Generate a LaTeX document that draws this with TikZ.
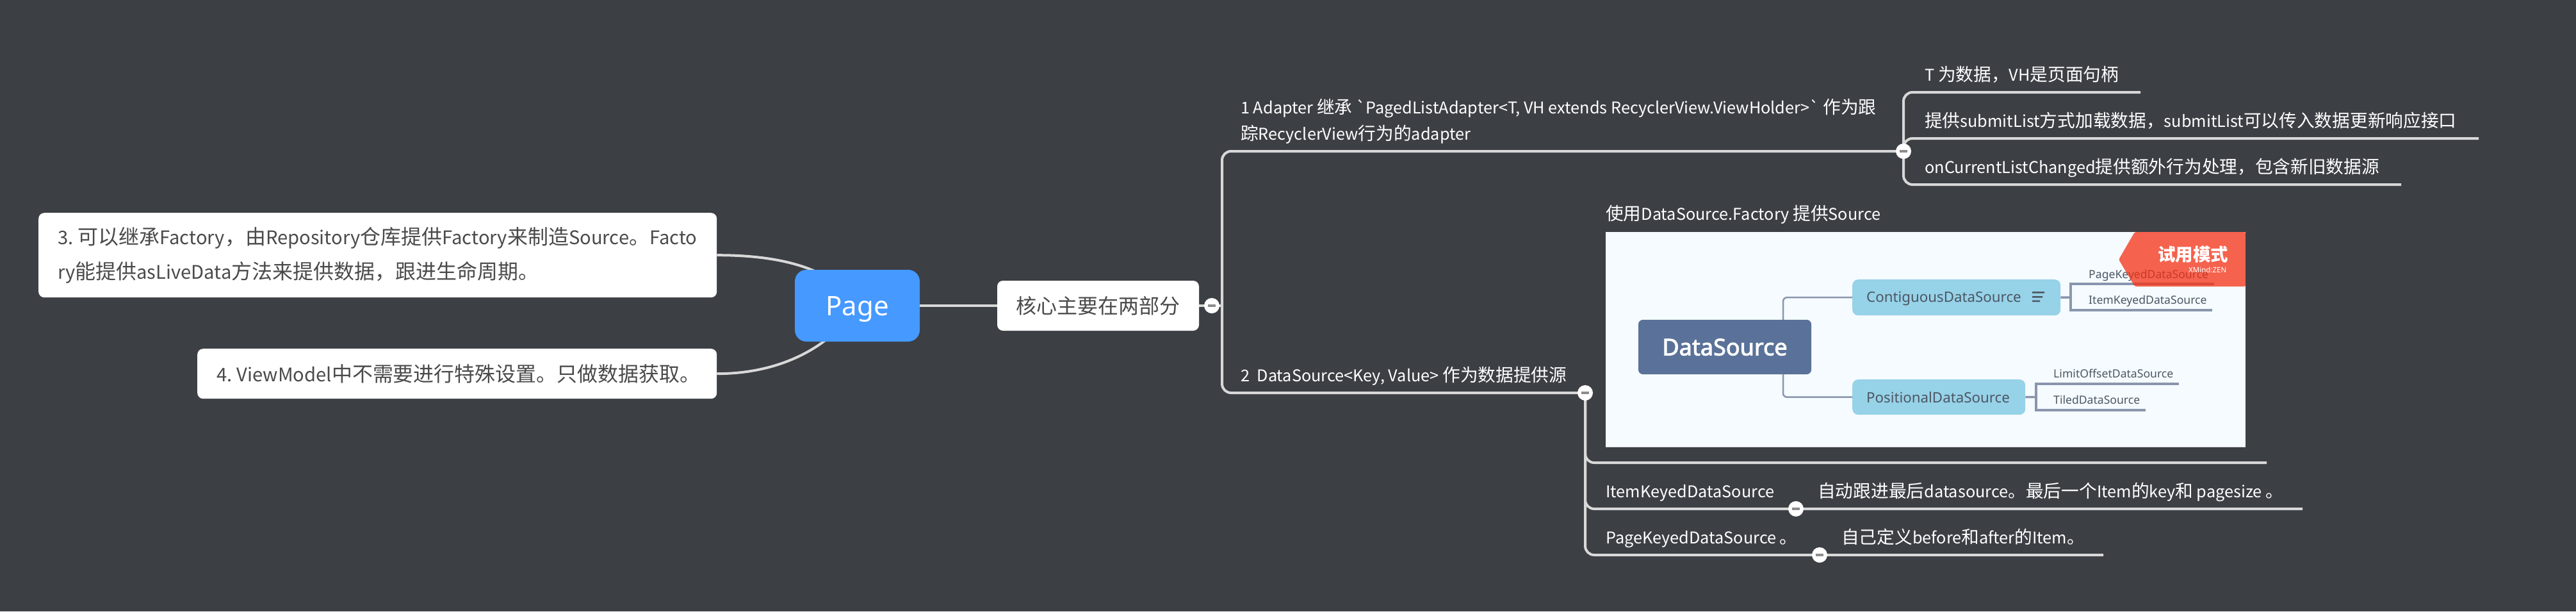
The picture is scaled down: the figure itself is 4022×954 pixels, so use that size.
\documentclass[tikz,border=0pt]{standalone}
\usepackage{fontspec}
\setmainfont[Ligatures=TeXOff]{Noto Sans CJK SC}
\newfontfamily\cjkf[Scale=1.095]{Noto Sans CJK SC}
\newfontfamily\cjkfull{Noto Sans CJK SC}
\newfontfamily\latinui{Noto Sans}
\newfontfamily\latinbold[FakeBold=2.5]{Noto Sans}
\newcommand{\C}[1]{{\cjkf #1}}
\usetikzlibrary{backgrounds}
\definecolor{bgc}{HTML}{3C3F44}
\definecolor{linec}{HTML}{D8D8D8}
\definecolor{boxtext}{HTML}{4A4A4A}
\definecolor{pageblue}{HTML}{4599FF}
\definecolor{imgbg}{HTML}{F5FBFF}
\definecolor{dsblue}{HTML}{5A7299}
\definecolor{skyb}{HTML}{96D2E8}
\definecolor{imgline}{HTML}{8A96AC}
\definecolor{imgtext}{HTML}{4D5662}
\definecolor{wmred}{HTML}{F53014}
\newcommand{\fs}[2]{\fontsize{#1}{#2}\selectfont}
\tikzset{
  link/.style={draw=linec,line width=4pt,rounded corners=14pt},
  curvelink/.style={draw=linec,line width=4pt},
  imglink/.style={draw=imgline,line width=2.5pt,rounded corners=6pt},
  imgsub/.style={draw=imgline,line width=3.5pt},
  note/.style={fill=white,rounded corners=9pt,inner sep=0pt,text=boxtext,anchor=north west,align=left},
  label/.style={inner sep=0pt,anchor=base west,text=white,align=left,font=\fs{25.3}{41}},
  collapse/.style={circle,fill=white,inner sep=0pt,minimum size=24pt,
    path picture={\fill[black!45] ([xshift=-6pt,yshift=-1.7pt]path picture bounding box.center) rectangle ([xshift=6pt,yshift=1.7pt]path picture bounding box.center);}},
  imgtxt/.style={inner sep=0pt,anchor=base west,text=imgtext,font=\latinui\fs{17.6}{24}},
}
\begin{document}
\begin{tikzpicture}[x=1pt,y=-1pt]
\useasboundingbox (0,0) rectangle (4022,954);
\begin{pgfonlayer}{background}
\fill[bgc] (0,0) rectangle (4022,954);
\end{pgfonlayer}
% left notes
\node[note,minimum width=1059pt,minimum height=132pt,text width=999pt,font=\fs{29.2}{54}] (n3) at (60,332)
  {3.\hspace{7pt}\C{可以继承}Factory\C{，由}Repository\C{仓库提供}Factory\C{来制造}Source\C{。}Facto\\ry\C{能提供}asLiveData\C{方法来提供数据，跟进生命周期。}};
\node[note,minimum width=811pt,minimum height=78pt,text width=751pt,font=\fs{29.2}{40}] (n4) at (308,544)
  {4.\hspace{7pt}ViewModel\C{中不需要进行特殊设置。只做数据获取。}};
% root and core
\node[fill=pageblue,rounded corners=18pt,minimum width=195pt,minimum height=112pt,inner sep=0pt,text=white,font=\latinui\fs{42}{50}] (page) at (1338.5,477) {\smash{\raisebox{-15pt}{Page}}};
\node[fill=white,rounded corners=9pt,minimum width=315pt,minimum height=78pt,inner sep=0pt,text=boxtext,font=\cjkfull\fs{32}{40}] (core) at (1714.5,477) {核心主要在两部分};
\node[collapse] (c0) at (1892,477) {};
% branch 1
\node[label] (t1) at (1937,218) {1 Adapter \C{继承} `PagedListAdapter<T, VH extends RecyclerView.ViewHolder>` \C{作为跟}\\\C{踪}RecyclerView\C{行为的}adapter};
\node[collapse] (c1) at (2972,236) {};
\node[label] (t11) at (3005,126) {T \C{为数据，}VH\C{是页面句柄}};
\node[label] (t12) at (3005,198) {\C{提供}submitList\C{方式加载数据，}submitList\C{可以传入数据更新响应接口}};
\node[label] (t13) at (3005,270) {onCurrentListChanged\C{提供额外行为处理，包含新旧数据源}};
\coordinate (e11) at (3342,144);
\coordinate (e12) at (3870,216);
\coordinate (e13) at (3749,288);
% branch 2
\node[label] (t2) at (1937,595) {2\ \ DataSource<Key, Value> \C{作为数据提供源}};
\node[collapse] (c2) at (2475,613) {};
\node[label] (t21) at (2507,343) {\C{使用}DataSource.Factory \C{提供}Source};
\node[fill=imgbg,inner sep=0pt,anchor=north west,minimum width=999pt,minimum height=335pt] (img) at (2507,362) {};
\draw[linec,line width=1.5pt] (img.south west) -- (img.south east);
\node[label] (t22) at (2507,776) {ItemKeyedDataSource};
\node[label] (t22b) at (2838,776) {\C{自动跟进最后}datasource\C{。最后一个}Item\C{的}key\C{和} pagesize \C{。}};
\node[label] (t23) at (2507,848) {PageKeyedDataSource \C{。}};
\node[label] (t23b) at (2875,848) {\C{自己定义}before\C{和}after\C{的}Item\C{。}};
\coordinate (e21) at (3539,722);
\coordinate (e22) at (3595,794);
\coordinate (e23) at (3284,866);
\node[collapse] (c3) at (2804,794) {};
\node[collapse] (c4) at (2841,866) {};
% inner image
\node[fill=dsblue,rounded corners=7pt,inner sep=0pt,minimum width=270pt,minimum height=85pt,text=white,font=\latinbold\fs{36}{44}] (ds) at (2693,541.5) {\smash{\raisebox{-13pt}{DataSource}}};
\node[fill=skyb,rounded corners=9pt,inner sep=0pt,minimum width=325pt,minimum height=56pt,anchor=north west] (cds) at (2892,436) {};
\node[inner sep=0pt,anchor=base west,text=imgtext,font=\latinui\fs{22.3}{30}] (cdst) at (2914,471) {ContiguousDataSource};
\node[fill=skyb,rounded corners=9pt,inner sep=0pt,minimum width=270pt,minimum height=55pt,anchor=north west] (pds) at (2892,592) {};
\node[inner sep=0pt,anchor=base west,text=imgtext,font=\latinui\fs{22.3}{30}] (pdst) at (2914,628) {PositionalDataSource};
\fill[imgtext] (3173,455) rectangle (3192,457.5) (3173,462) rectangle (3189,464.5) (3173,468.5) rectangle (3185,471);
\coordinate (dsu) at (2784,499);
\coordinate (dsd) at (2784,584);
\draw[imglink] (dsu) |- (cds.west);
\draw[imglink] (dsd) |- (pds.west);
\node[imgtxt] (a1) at (3261,434) {PageKeyedDataSource};
\node[imgtxt] (a2) at (3261,474) {ItemKeyedDataSource};
\node[imgtxt] (b1) at (3206,589) {LimitOffsetDataSource};
\node[imgtxt] (b2) at (3206,630) {TiledDataSource};
\coordinate (ja) at (3233,464);
\coordinate (jb) at (3179,619.5);
\coordinate (ea1) at (3457,443);
\coordinate (ea2) at (3454,484);
\coordinate (eb1) at (3402,599);
\coordinate (eb2) at (3350,640);
\draw[imgsub] (cds.east) -- (ja);
\draw[imgsub] (pds.east) -- (jb);
\draw[imgsub] (ea1) -| (ja) |- (ea2);
\draw[imgsub] (eb1) -| (jb) |- (eb2);
% watermark
\fill[wmred,fill opacity=.75,rounded corners=2pt] (3333,362) -- (3506,362) -- (3506,447) -- (3333,447) -- (3308,405) -- cycle;
\node[inner sep=0pt,anchor=base west,text=white,font=\cjkfull\bfseries\fs{27.5}{30}] (wm) at (3369,407) {试用模式};
\node[inner sep=0pt,anchor=base west,text=white,font=\latinui\fs{11.5}{14}] (wm2) at (3417,425) {XMind:ZEN};
% connectors
\begin{pgfonlayer}{background}
\draw[curvelink] (n3.east) .. controls (1233,398) and (1306,425) .. (page.center);
\draw[curvelink] (n4.east) .. controls (1233,583) and (1306,530) .. (page.center);
\draw[curvelink] (page.east) -- (core.west);
\draw[curvelink] (core.east) -- (c0.center);
\coordinate (j0) at (1908,477);
\draw[link] (j0) |- (c1.center);
\draw[link] (j0) |- (c2.center);
\draw[curvelink] (c0.center) -- (j0);
\draw[link] (c1.center) |- (e11);
\draw[link] (c1.center) |- (e12);
\draw[link] (c1.center) |- (e13);
\draw[link] (c2.center) |- (e21);
\draw[link] (c2.center) |- (e22);
\draw[link] (c2.center) |- (e23);
\end{pgfonlayer}
\end{tikzpicture}
\end{document}
